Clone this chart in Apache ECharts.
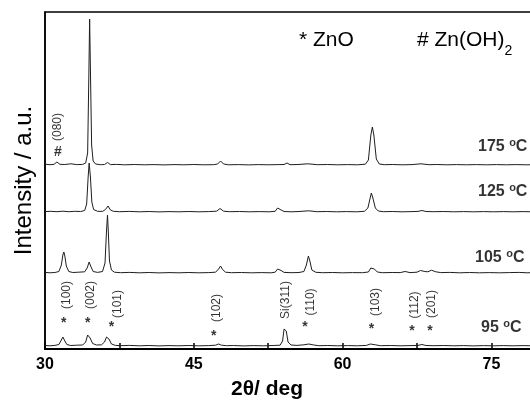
<!DOCTYPE html>
<html>
<head>
<meta charset="utf-8">
<script src="https://cdn.jsdelivr.net/npm/echarts@6/dist/echarts.min.js"></script>
<style>
  html, body { margin: 0; padding: 0; background: #fff; }
  #xrd { width: 530px; height: 404px; }
</style>
</head>
<body>
<div id="xrd"></div>
<script>
// XRD patterns, intensity above each trace's own baseline (a.u.)
var trace95 = [[30,0.5],[30.5,0.2],[31,0.6],[31.4,1.5],[31.65,6],[31.8,9],[31.95,6],[32.2,1.5],[32.6,0.5],[33.2,0.8],[33.8,1],[34.1,4],[34.3,11],[34.4,12],[34.55,8],[34.8,2.5],[35.2,1],[35.7,1.2],[36.0,4],[36.2,9],[36.3,10],[36.45,7],[36.7,2],[37.1,0.6],[37.6,0.3],[38.5,0.6],[39.5,0.2],[40.5,0.5],[41.5,0.1],[42.5,0.4],[43.5,0.2],[44.5,0.5],[45.5,0.2],[46.5,0.4],[47.2,0.8],[47.5,2],[47.8,0.8],[48.3,0.3],[49,0.5],[50,0.1],[51,0.4],[52,0.2],[53,0.5],[53.7,0.8],[53.95,5],[54.1,17],[54.2,19],[54.32,15],[54.5,4],[54.8,1],[55.4,0.6],[56.1,1.2],[56.6,2],[57.1,1],[57.6,0.3],[58.5,0.5],[59.5,0.2],[60.5,0.4],[61.5,0.2],[62.4,0.6],[62.8,2],[63.0,2.5],[63.3,1.2],[63.8,0.3],[64.8,0.5],[65.8,0.2],[66.8,0.4],[67.6,0.6],[68.0,1.5],[68.4,0.5],[69.2,0.3],[70.2,0.5],[71.2,0.2],[72.2,0.4],[73.2,0.1],[74.2,0.4],[75.2,0.2],[76.2,0.4],[77.2,0.2],[78.2,0.4],[79.2,0.2],[80,0.3]];
var trace105 = [[30,0.6],[30.5,0.2],[31,0.5],[31.4,1.5],[31.65,8],[31.8,18],[31.9,21],[32.0,17],[32.15,7],[32.4,1.5],[32.8,0.5],[33.4,0.8],[34.0,1.2],[34.25,5],[34.45,11],[34.6,7],[34.85,1.5],[35.3,0.6],[35.8,1.5],[36.05,10],[36.2,42],[36.3,58],[36.38,42],[36.5,12],[36.7,3],[37.0,0.8],[37.6,0.3],[38.5,0.6],[39.5,0.2],[40.5,0.5],[41.5,0.1],[42.5,0.4],[43.5,0.2],[44.5,0.5],[45.5,0.2],[46.5,0.4],[47.2,0.8],[47.5,4],[47.7,7],[47.9,3.5],[48.2,0.8],[48.8,0.3],[49.8,0.5],[50.8,0.2],[51.8,0.4],[52.8,0.2],[53.2,0.8],[53.45,4],[53.6,6],[53.8,2.5],[54.1,0.6],[54.8,0.3],[55.6,0.5],[56.1,1.5],[56.35,8],[56.55,17],[56.7,12],[56.9,3],[57.3,0.7],[58,0.3],[59,0.5],[60,0.2],[61,0.4],[62,0.3],[62.6,1],[62.85,5],[63.0,7],[63.2,4],[63.5,1],[64,0.3],[65,0.5],[65.8,0.4],[66.3,1.5],[66.8,0.4],[67.5,0.8],[67.85,2.5],[68.0,3],[68.3,1.5],[68.6,1.2],[68.95,2.8],[69.1,3],[69.4,1.2],[69.9,0.4],[70.8,0.6],[71.8,0.2],[72.8,0.5],[73.8,0.2],[74.8,0.4],[75.8,0.2],[76.8,0.4],[77.8,0.6],[78.6,0.2],[79.4,0.4],[80,0.2]];
var trace125 = [[30,0.4],[30.6,0.7],[31.2,0.3],[31.8,0.8],[32.4,0.3],[33,0.7],[33.6,0.5],[34.0,1.5],[34.2,8],[34.35,35],[34.45,49],[34.58,35],[34.72,10],[34.9,2.5],[35.3,0.7],[35.8,0.6],[36.1,2.5],[36.35,6],[36.6,2],[36.9,0.7],[37.5,0.3],[38.5,0.6],[39.5,0.2],[40.5,0.5],[41.5,0.1],[42.5,0.4],[43.5,0.2],[44.5,0.5],[45.5,0.2],[46.5,0.4],[47.3,0.8],[47.65,3.5],[48.0,0.8],[48.6,0.3],[49.6,0.5],[50.6,0.2],[51.6,0.4],[52.6,0.2],[53.2,0.7],[53.45,4],[53.6,6],[53.8,2],[54.1,0.5],[54.8,0.2],[55.6,0.5],[56.6,1.2],[57.4,0.3],[58.4,0.5],[59.4,0.2],[60.4,0.4],[61.4,0.2],[62.2,0.7],[62.55,4],[62.8,15],[62.9,19],[63.05,14],[63.3,4],[63.6,1],[64.1,0.3],[65,0.5],[66,0.2],[67,0.4],[67.6,0.6],[68.0,1.5],[68.4,0.5],[69.2,0.3],[70.2,0.5],[71.2,0.2],[72.2,0.4],[73.2,0.2],[74.2,0.4],[75.2,0.2],[76.2,0.4],[77.2,0.2],[78.2,0.4],[79.2,0.2],[80,0.3]];
var trace175 = [[30,0.8],[30.5,0.3],[30.9,0.6],[31.2,3],[31.5,0.7],[32,0.5],[32.6,1.2],[33.2,0.4],[33.8,0.6],[34.1,2],[34.3,12],[34.42,90],[34.5,146],[34.58,95],[34.7,20],[34.85,4],[35.1,1],[35.6,0.3],[36.0,0.5],[36.3,2.5],[36.6,0.4],[37.2,0.6],[38,0.2],[39,0.5],[40,0.2],[41,0.4],[42,0.1],[43,0.4],[44,0.2],[45,0.5],[46,0.2],[47,0.3],[47.4,1],[47.7,4],[48.0,1],[48.5,0.2],[49.5,0.4],[50.5,0.1],[51.5,0.4],[52.5,0.2],[53.5,0.4],[54.1,0.5],[54.4,2],[54.7,0.3],[55.5,0.5],[56.5,1.2],[57.5,0.3],[58.5,0.5],[59.5,0.2],[60.5,0.4],[61.5,0.2],[62.3,0.8],[62.6,5],[62.85,30],[63.0,38],[63.15,30],[63.4,6],[63.7,1],[64.2,0.3],[65,0.5],[66,0.2],[67,0.4],[67.9,1.2],[68.7,0.3],[69.5,0.5],[70.5,0.2],[71.5,0.4],[72.5,0.2],[73.5,0.4],[74.5,0.2],[75.5,0.4],[76.5,0.2],[77.5,0.4],[78.5,0.2],[79.5,0.3],[80,0.2]];

var traces = [trace95, trace105, trace125, trace175];
var offsets = [3, 76, 137, 184];
var temps = ['95', '105', '125', '175'];
var tempPos = [[73.95, 21], [73.35, 91], [73.65, 157], [73.65, 202]];

// reflection labels: [2theta, height, text]
var peakLabels = [[31.3, 222, '(080)'], [32.2, 54, '(100)'], [34.6, 54, '(002)'], [37.3, 45, '(101)'], [47.3, 41, '(102)'], [54.3, 49, 'Si(311)'], [56.8, 47, '(110)'], [63.3, 47, '(103)'], [67.3, 44, '(112)'], [69.0, 45, '(201)']];
// phase markers: [2theta, height, symbol]
var phaseMarks = [[31.3, 197, '#'], [31.9, 26, '*'], [34.3, 26, '*'], [36.7, 22, '*'], [47.0, 13, '*'], [56.2, 22, '*'], [62.9, 20, '*'], [67.0, 18, '*'], [68.8, 18, '*']];

var xTicks = [30, 45, 60, 75];

var chart = echarts.init(document.getElementById('xrd'));

var series = traces.map(function (tr, i) {
  return {
    name: temps[i] + ' °C',
    type: 'line',
    symbol: 'none',
    lineStyle: { color: '#1e1e1e', width: 1 },
    data: tr.map(function (p) { return [p[0], p[1] + offsets[i]]; })
  };
});

series.push({
  type: 'scatter',
  symbolSize: 0,
  silent: true,
  data: peakLabels.map(function (p) { return { name: p[2], value: [p[0], p[1]] }; }),
  label: {
    show: true, position: 'inside', formatter: '{b}', rotate: 90,
    fontFamily: 'Liberation Sans', fontSize: 12, color: '#000'
  }
});

series.push({
  type: 'scatter',
  symbolSize: 0,
  silent: true,
  data: phaseMarks.map(function (p) { return { name: p[2], value: [p[0], p[1]] }; }),
  label: {
    show: true, position: 'inside', formatter: '{b}',
    fontFamily: 'Liberation Sans', fontSize: 14, fontWeight: 'bold', color: '#000'
  }
});

series.push({
  type: 'scatter',
  symbolSize: 0,
  silent: true,
  data: tempPos.map(function (p, i) { return { name: temps[i], value: p }; }),
  label: {
    show: true, position: [0, 0], align: 'left', verticalAlign: 'middle',
    formatter: function (pr) { return '{a|' + pr.name + ' }{s|o}{a|C}'; },
    rich: {
      a: { fontFamily: 'Liberation Sans', fontSize: 16, fontWeight: 'bold', color: '#000', lineHeight: 19 },
      s: { fontFamily: 'Liberation Sans', fontSize: 11, fontWeight: 'bold', color: '#000', verticalAlign: 'top', lineHeight: 11 }
    }
  }
});

var option = {
  animation: false,
  backgroundColor: '#fff',
  grid: {
    left: 45, top: 12, right: -11, bottom: 55,
    outerBoundsMode: 'none',
    show: true, borderColor: '#000', borderWidth: 1.5
  },
  xAxis: {
    type: 'value', min: 30, max: 80, interval: 7.5,
    name: '2θ/ deg', nameLocation: 'middle', nameGap: 30,
    nameTextStyle: { fontFamily: 'Liberation Sans', fontSize: 21, fontWeight: 'bold', color: '#000', padding: [0, 52, 0, 0] },
    axisLine: { lineStyle: { color: '#000', width: 2 } },
    axisTick: { inside: true, length: 6, lineStyle: { color: '#000', width: 1.5 } },
    axisLabel: {
      margin: 8, fontFamily: 'Liberation Sans', fontSize: 16, fontWeight: 'bold', color: '#000',
      formatter: function (v) { return xTicks.indexOf(v) >= 0 ? String(v) : ''; }
    },
    splitLine: { show: false }
  },
  yAxis: {
    type: 'value', min: 0, max: 337,
    name: 'Intensity / a.u.', nameLocation: 'middle', nameGap: 9,
    nameTextStyle: { fontFamily: 'Liberation Sans', fontSize: 24, color: '#000' },
    axisLine: { show: true, lineStyle: { color: '#000', width: 1.5 } },
    axisTick: { show: false },
    axisLabel: { show: false },
    splitLine: { show: false }
  },
  graphic: [
    {
      type: 'text', x: 299, y: 40,
      style: {
        text: '* ZnO', fill: '#000', verticalAlign: 'middle',
        font: '21px "Liberation Sans"'
      }
    },
    {
      type: 'text', x: 417, y: 40,
      style: {
        text: '{t|# Zn(OH)}{b|2}', verticalAlign: 'middle',
        rich: {
          t: { fontFamily: 'Liberation Sans', fontSize: 21, fill: '#000', lineHeight: 24 },
          b: { fontFamily: 'Liberation Sans', fontSize: 14, fill: '#000', verticalAlign: 'bottom', lineHeight: 14, padding: [0, 0, -6, 0] }
        }
      }
    }
  ],
  series: series
};

chart.setOption(option);
</script>
</body>
</html>
